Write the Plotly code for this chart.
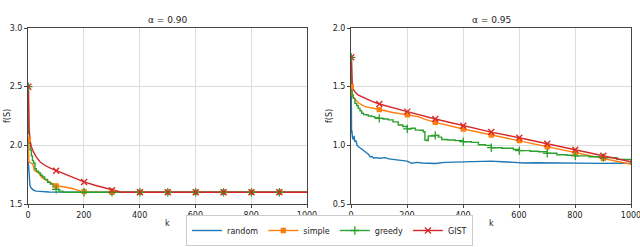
import plotly.graph_objects as go

# ---------------- data ----------------
# alpha = 0.90 panel
l_random_k = [1, 2, 3, 5, 7, 10, 15, 20, 30, 50, 75, 101, 150, 201, 301, 401, 501, 601, 701, 801, 901, 1000]
l_random_v = [1.86, 1.80, 1.74, 1.69, 1.66, 1.64, 1.625, 1.617, 1.61, 1.605, 1.602, 1.601, 1.60, 1.60, 1.60, 1.60, 1.60, 1.60, 1.60, 1.60, 1.60, 1.60]

l_simple_k = [1, 2, 3, 10, 18, 22, 30, 40, 50, 60, 75, 90, 101, 130, 160, 185, 201, 230, 301, 401, 501, 601, 701, 801, 901, 1000]
l_simple_v = [2.05, 1.95, 1.86, 1.85, 1.84, 1.79, 1.775, 1.76, 1.725, 1.71, 1.69, 1.67, 1.655, 1.645, 1.632, 1.612, 1.605, 1.60, 1.60, 1.60, 1.60, 1.60, 1.60, 1.60, 1.60, 1.60]

l_greedy_k = [1, 2, 5, 8, 12, 16, 20, 25, 30, 38, 45, 52, 60, 70, 80, 90, 101, 110, 125, 201, 301, 401, 501, 601, 701, 801, 901, 1000]
l_greedy_v = [2.5, 2.10, 2.02, 1.96, 1.91, 1.87, 1.85, 1.80, 1.78, 1.765, 1.745, 1.73, 1.71, 1.685, 1.67, 1.645, 1.625, 1.61, 1.60, 1.60, 1.60, 1.60, 1.60, 1.60, 1.60, 1.60, 1.60, 1.60]

l_gist_k = [1, 2, 4, 7, 12, 19, 30, 43, 60, 80, 101, 130, 160, 201, 240, 270, 301, 320, 335, 401, 501, 601, 701, 801, 901, 1000]
l_gist_v = [2.5, 2.3, 2.15, 2.045, 1.99, 1.946, 1.90, 1.86, 1.83, 1.805, 1.784, 1.755, 1.725, 1.688, 1.66, 1.64, 1.617, 1.607, 1.60, 1.60, 1.60, 1.60, 1.60, 1.60, 1.60, 1.60]

# alpha = 0.95 panel
r_random_k = [1, 2, 3, 5, 8, 11, 14, 18, 22, 26, 32, 38, 44, 50, 56, 62, 68, 75, 82, 90, 100, 110, 122, 135, 150, 169, 185, 200,
              217, 235, 255, 276, 300, 336, 370, 400, 455, 500, 540, 580, 620, 660, 700, 750, 800, 850, 900, 950, 1000]
r_random_v = [1.45, 1.10, 1.13, 1.07, 1.05, 1.08, 1.03, 1.04, 1.00, 0.99, 0.98, 0.965, 0.955, 0.945, 0.935, 0.925, 0.903, 0.905, 0.89,
              0.895, 0.89, 0.893, 0.895, 0.885, 0.88, 0.875, 0.868, 0.865, 0.847, 0.855, 0.85, 0.85, 0.845, 0.855, 0.858, 0.86, 0.862,
              0.865, 0.86, 0.852, 0.85, 0.852, 0.85, 0.848, 0.846, 0.848, 0.846, 0.847, 0.846]

r_simple_k = [1, 2, 3, 8, 15, 26, 50, 75, 101, 150, 201, 240, 260, 301, 401, 501, 601, 701, 801, 901, 1000]
r_simple_v = [1.50, 1.45, 1.43, 1.41, 1.39, 1.363, 1.33, 1.315, 1.305, 1.28, 1.26, 1.245, 1.225, 1.196, 1.139, 1.088, 1.04, 0.988, 0.937, 0.889, 0.838]

r_greedy_k = [1, 2, 4, 8, 14, 20, 26, 32, 38, 45, 55, 62, 75, 85, 101, 115, 133, 150, 169, 185, 201, 215, 230, 245, 258, 264, 270,
              276, 301, 312, 324, 345, 372, 401, 430, 455, 480, 501, 540, 580, 601, 640, 670, 701, 735, 770, 801, 850, 901, 950, 1000]
r_greedy_v = [1.75, 1.47, 1.43, 1.40, 1.358, 1.34, 1.315, 1.295, 1.273, 1.262, 1.258, 1.25, 1.245, 1.235, 1.23, 1.225, 1.217, 1.20,
              1.173, 1.16, 1.14, 1.145, 1.13, 1.128, 1.116, 1.045, 1.04, 1.08, 1.085, 1.07, 1.05, 1.045, 1.04, 1.031, 1.025, 1.005,
              1.00, 0.98, 0.975, 0.965, 0.955, 0.95, 0.945, 0.932, 0.92, 0.915, 0.91, 0.903, 0.895, 0.88, 0.85]

r_gist_k = [1, 2, 3, 5, 8, 14, 25, 50, 75, 101, 150, 201, 301, 401, 501, 601, 701, 801, 901, 1000]
r_gist_v = [1.75, 1.58, 1.53, 1.50, 1.48, 1.457, 1.43, 1.40, 1.375, 1.352, 1.318, 1.287, 1.224, 1.167, 1.113, 1.065, 1.014, 0.963, 0.911, 0.86]

titles = ["α = 0.90", "α = 0.95"]
x_ticks = [0, 200, 400, 600, 800, 1000]
y_ticks_left = [1.5, 2.0, 2.5, 3.0]
y_ticks_right = [0.5, 1.0, 1.5, 2.0]
marker_every = 100

# ---------------- styling ----------------
names = ["random", "simple", "greedy", "GIST"]
colors = {"random": "#1f77b4", "simple": "#ff7f0e", "greedy": "#2ca02c", "GIST": "#d62728"}
symbols = {"random": None, "simple": "square", "greedy": "cross-thin", "GIST": "x-thin"}
msize = {"simple": 4, "greedy": 6, "GIST": 6}
shapes = {"random": "linear", "simple": "linear", "greedy": "hv", "GIST": "linear"}
FONT = "DejaVu Sans"

fig = go.Figure()

panels = [
    ("x", "y", {"random": (l_random_k, l_random_v), "simple": (l_simple_k, l_simple_v),
                "greedy": (l_greedy_k, l_greedy_v), "GIST": (l_gist_k, l_gist_v)}),
    ("x2", "y2", {"random": (r_random_k, r_random_v), "simple": (r_simple_k, r_simple_v),
                  "greedy": (r_greedy_k, r_greedy_v), "GIST": (r_gist_k, r_gist_v)}),
]

for xa, ya, series in panels:
    for n in names:
        ks, vs = series[n]
        fig.add_trace(go.Scatter(x=ks, y=vs, mode="lines", xaxis=xa, yaxis=ya,
                                 line=dict(color=colors[n], width=1.4, shape=shapes[n]),
                                 showlegend=False, hoverinfo="skip"))
    for n in names:
        if symbols[n] is None:
            continue
        ks, vs = series[n]
        mk = [k for k in ks if (k - 1) % marker_every == 0 and k < 1000]
        mv = [v for k, v in zip(ks, vs) if (k - 1) % marker_every == 0 and k < 1000]
        fig.add_trace(go.Scatter(x=mk, y=mv, mode="markers", xaxis=xa, yaxis=ya,
                                 marker=dict(symbol=symbols[n], size=msize[n], color=colors[n],
                                             line=dict(color=colors[n], width=1.3)),
                                 showlegend=False, hoverinfo="skip"))

# legend entries
for n in names:
    if symbols[n] is None:
        fig.add_trace(go.Scatter(x=[None], y=[None], mode="lines", name=n,
                                 line=dict(color=colors[n], width=1.4)))
    else:
        fig.add_trace(go.Scatter(x=[None], y=[None], mode="lines+markers", name=n,
                                 line=dict(color=colors[n], width=1.4),
                                 marker=dict(symbol=symbols[n], size=msize[n], color=colors[n],
                                             line=dict(color=colors[n], width=1.3))))

H = 247.0
W = 640.0
y_dom = [1 - 204 / H, 1 - 28 / H]
x_dom1 = [28 / W, 307 / W]
x_dom2 = [351 / W, 631 / W]

axis_common = dict(showline=True, linecolor="#444", linewidth=0.9, mirror=True,
                   ticks="outside", ticklen=3, tickwidth=0.8, tickcolor="#444",
                   showgrid=True, gridcolor="#dcdcdc", gridwidth=1, zeroline=False,
                   automargin=False, ticklabeloverflow="allow",
                   tickfont=dict(family=FONT, size=8, color="#222"))

fig.update_layout(
    template="none",
    width=640, height=247,
    margin=dict(l=0, r=0, t=0, b=0, pad=0),
    paper_bgcolor="white", plot_bgcolor="white",
    font=dict(family=FONT, size=8, color="#222"),
    xaxis=dict(domain=x_dom1, range=[0, 1000], tickvals=x_ticks, anchor="y", **axis_common),
    yaxis=dict(domain=y_dom, range=[1.5, 3.0], tickvals=y_ticks_left, tickformat=".1f", anchor="x", **axis_common),
    xaxis2=dict(domain=x_dom2, range=[0, 1000], tickvals=x_ticks, anchor="y2", **axis_common),
    yaxis2=dict(domain=y_dom, range=[0.5, 2.0], tickvals=y_ticks_right, tickformat=".1f", anchor="x2", **axis_common),
    legend=dict(orientation="h", x=0.515, xanchor="center", y=1 - 246 / H, yanchor="bottom",
                bordercolor="#cccccc", borderwidth=1, bgcolor="white",
                font=dict(family=FONT, size=8, color="#222"),
                tracegroupgap=0),
    showlegend=True,
)

annotations = []
for title, dom in zip(titles, [x_dom1, x_dom2]):
    cx = (dom[0] + dom[1]) / 2
    annotations.append(dict(text=title, x=cx, y=1 - 20 / H, xref="paper", yref="paper",
                            xanchor="center", yanchor="middle",
                            showarrow=False, font=dict(family=FONT, size=9, color="#222")))
    annotations.append(dict(text="k", x=cx, y=1 - 223 / H, xref="paper", yref="paper",
                            xanchor="center", yanchor="middle",
                            showarrow=False, font=dict(family=FONT, size=8, color="#222")))
annotations.append(dict(text="f(S)", x=7 / W, y=1 - 116 / H, xref="paper", yref="paper",
                        xanchor="center", yanchor="middle",
                        textangle=-90, showarrow=False, font=dict(family=FONT, size=8, color="#222")))
annotations.append(dict(text="f(S)", x=329 / W, y=1 - 116 / H, xref="paper", yref="paper",
                        xanchor="center", yanchor="middle",
                        textangle=-90, showarrow=False, font=dict(family=FONT, size=8, color="#222")))
fig.update_layout(annotations=annotations)

fig.write_html("out.html", config={"displayModeBar": False},
               post_script="document.body.style.margin='0';document.body.style.padding='0';document.body.style.overflow='hidden';")
